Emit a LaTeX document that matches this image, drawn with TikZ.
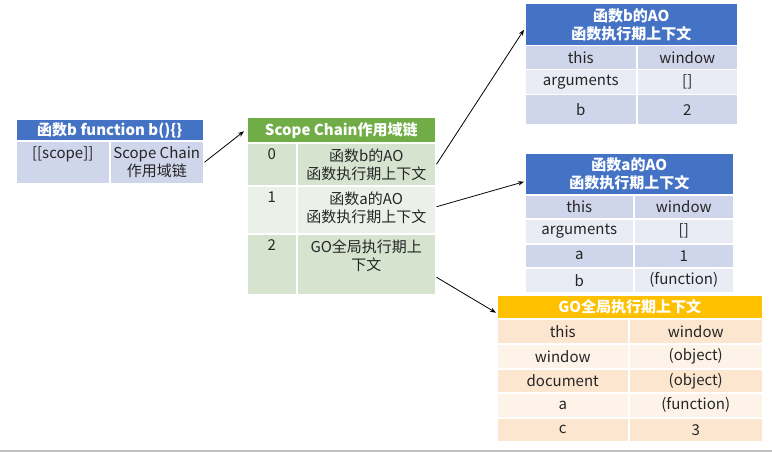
\documentclass[tikz,border=0pt]{standalone}
\usepackage{fontspec}
\setmainfont{Noto Sans CJK SC}
\usetikzlibrary{arrows.meta,calc}
\definecolor{hdblue}{HTML}{4472C4}
\definecolor{bluedk}{HTML}{CFD5EA}
\definecolor{bluelt}{HTML}{E9EBF5}
\definecolor{hdgreen}{HTML}{70AD47}
\definecolor{greendk}{HTML}{D5E3CF}
\definecolor{greenlt}{HTML}{EBF1E9}
\definecolor{hdgold}{HTML}{FFC000}
\definecolor{peachdk}{HTML}{FCE6D0}
\definecolor{peachlt}{HTML}{FEF3E8}
\definecolor{ink}{HTML}{262626}
\tikzset{
  hdcell/.style={anchor=north west, inner sep=0pt, draw=white, line width=1.5pt,
                 text=white, align=center, font=\fontsize{15}{18}\selectfont\bfseries},
  bdcell/.style={anchor=north west, inner sep=0pt, draw=white, line width=1.5pt,
                 text=ink, align=center, font=\fontsize{15}{18}\selectfont},
  toptext/.style={anchor=north, inner sep=0pt, yshift=-6.5pt, text=ink,
                  align=center, font=\fontsize{15}{18}\selectfont},
  arr/.style={-{Stealth[length=6pt, width=4.5pt]}, line width=0.8pt, color=black}}

\begin{document}
\begin{tikzpicture}[x=1pt, y=-1pt]
  \useasboundingbox (0,0) rectangle (772,452);
  \draw[black!25, line width=2pt] (0,451) -- (772,451);

  % function b
  \node[hdcell, fill=hdblue, minimum width=188pt, minimum height=21pt] (fnb-h) at (15,119) {函数b function b()\{\}};
  \node[bdcell, fill=bluedk, minimum width=94pt, minimum height=43pt,
        label={[toptext]90:{[[scope]]}}] (fnb-k) at (15,140) {};
  \node[bdcell, fill=bluedk, minimum width=94pt, minimum height=43pt,
        label={[toptext]90:{Scope Chain\\作用域链}}] (fnb-v) at (109,140) {};

  % scope chain
  \node[hdcell, fill=hdgreen, minimum width=189pt, minimum height=25pt] (sc-h) at (246,117) {Scope Chain作用域链};
  \foreach \k/\v/\y/\h/\c in {0/{函数b的AO\\函数执行期上下文}/142/43/greendk,
                              1/{函数a的AO\\函数执行期上下文}/185/48/greenlt,
                              2/{GO全局执行期上\\下文}/233/61/greendk} {
    \node[bdcell, fill=\c, minimum width=50pt, minimum height=\h,
          label={[toptext]90:\k}] (sc-\k k) at (246,\y) {};
    \node[bdcell, fill=\c, minimum width=139pt, minimum height=\h,
          label={[toptext]90:{\v}}] (sc-\k v) at (296,\y) {};
  }

  % AO of b
  \node[hdcell, fill=hdblue, minimum width=213pt, minimum height=42pt] (aob-h) at (524,3) {函数b的AO\\函数执行期上下文};
  \foreach \k/\v/\y/\h/\c [count=\i] in {this/window/45/24/bluedk,
                                         arguments/{[]}/69/25/bluelt,
                                         b/2/94/30/bluedk} {
    \node[bdcell, fill=\c, minimum width=112pt, minimum height=\h] (aob-k\i) at (524,\y) {\k};
    \node[bdcell, fill=\c, minimum width=101pt, minimum height=\h] (aob-v\i) at (636,\y) {\v};
  }

  % AO of a
  \node[hdcell, fill=hdblue, minimum width=209pt, minimum height=42pt] (aoa-h) at (524,152) {函数a的AO\\函数执行期上下文};
  \foreach \k/\v/\y/\h/\c [count=\i] in {this/window/194/24/bluedk,
                                         arguments/{[]}/218/25/bluelt,
                                         a/1/243/24/bluedk,
                                         b/(function)/267/25/bluelt} {
    \node[bdcell, fill=\c, minimum width=109pt, minimum height=\h] (aoa-k\i) at (524,\y) {\k};
    \node[bdcell, fill=\c, minimum width=100pt, minimum height=\h] (aoa-v\i) at (633,\y) {\v};
  }

  % global object
  \node[hdcell, fill=hdgold, minimum width=266pt, minimum height=24pt] (go-h) at (496,294) {GO全局执行期上下文};
  \foreach \k/\v/\y/\h/\c [count=\i] in {this/window/318/25/peachdk,
                                         window/(object)/343/25/peachlt,
                                         document/(object)/368/24/peachdk,
                                         a/(function)/392/25/peachlt,
                                         c/3/417/24/peachdk} {
    \node[bdcell, fill=\c, minimum width=132pt, minimum height=\h] (go-k\i) at (496,\y) {\k};
    \node[bdcell, fill=\c, minimum width=134pt, minimum height=\h] (go-v\i) at (628,\y) {\v};
  }

  \draw[arr] (fnb-v.east) -- ($(sc-h.west)+(-2,1)$);
  \draw[arr] (sc-0v.east) -- ($(aob-h.west)+(0,5)$);
  \draw[arr] ($(sc-1v.east)+(0,-3)$) -- ($(aoa-h.west)+(0,8)$);
  \draw[arr] ($(sc-2v.east)+(0,13)$) -- ($(go-h.west)+(0,6)$);
\end{tikzpicture}
\end{document}
